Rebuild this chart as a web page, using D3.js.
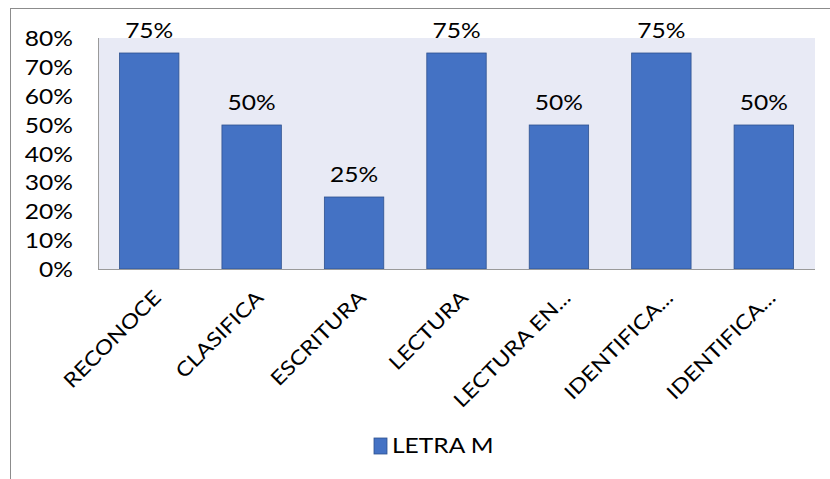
<!DOCTYPE html>
<html><head><meta charset="utf-8">
<script src="https://cdn.jsdelivr.net/npm/d3@7"></script>
<style>body{margin:0;background:#fff}svg{display:block}text{font-family:Lato,"Open Sans",sans-serif;fill:#000}</style>
</head><body><svg id="c" width="830" height="479"></svg>
<script>
const categories = ["RECONOCE","CLASIFICA","ESCRITURA","LECTURA","LECTURA EN...","IDENTIFICA...","IDENTIFICA..."];
const values = [0.75,0.50,0.25,0.75,0.50,0.75,0.50];
const yTicks = [0,0.1,0.2,0.3,0.4,0.5,0.6,0.7,0.8];
const seriesName = "LETRA M";

(function(){
const svg = d3.select("#c");
const pL = 98, pR = 815, pT = 38, pB = 269;
const SX = 1.17, FS = 21;
svg.append("line").attr("x1",10.5).attr("x2",830).attr("y1",8.5).attr("y2",8.5).attr("stroke","#8c8c8c");
svg.append("line").attr("x1",10.5).attr("x2",10.5).attr("y1",8).attr("y2",479).attr("stroke","#8c8c8c");

svg.append("rect").attr("x",pL).attr("y",pT).attr("width",pR-pL).attr("height",pB-pT).attr("fill","#e8eaf5");

const x = d3.scaleBand().domain(d3.range(categories.length)).range([pL,pR]).paddingInner(0.42).paddingOuter(0.21);
const y = d3.scaleLinear().domain([0,0.8]).range([pB, pB-0.8*288]);

svg.selectAll("rect.bar").data(values).join("rect").attr("class","bar")
  .attr("x",(d,i)=>x(i)).attr("width",x.bandwidth())
  .attr("y",d=>y(d)).attr("height",d=>y(0)-y(d))
  .attr("fill","#4472c4").attr("stroke","#2f528f").attr("stroke-width",0.8);

svg.selectAll("text.lbl").data(values).join("text").attr("class","lbl")
  .attr("transform",(d,i)=>`translate(${x(i)+x.bandwidth()/2},${y(d)-15}) scale(${SX},1)`)
  .attr("text-anchor","middle").attr("font-size",FS).text(d=>d3.format(".0%")(d));

const yAxis = d3.axisLeft(y).tickValues(yTicks).tickFormat(d3.format(".0%")).tickSize(0).tickPadding(0);
const gy = svg.append("g").attr("transform","translate(73,0)").call(yAxis);
gy.select(".domain").remove();
gy.selectAll("text").attr("font-size",FS).attr("font-family","Lato,'Open Sans',sans-serif").attr("fill","#000")
  .attr("dy","0.35em").attr("x",0).attr("transform",`scale(${SX},1)`);

svg.append("line").attr("x1",pL).attr("x2",pR).attr("y1",pB+0.5).attr("y2",pB+0.5).attr("stroke","#9a9a9a");
svg.append("line").attr("x1",pL+0.5).attr("x2",pL+0.5).attr("y1",pT).attr("y2",pB).attr("stroke","#9a9a9a");

const xAxis = d3.axisBottom(x).tickFormat(i=>categories[i]).tickSize(0).tickPadding(0);
const gx = svg.append("g").attr("transform",`translate(0,${pB})`).call(xAxis);
gx.select(".domain").remove();
gx.selectAll("text").attr("font-size",20).attr("font-family","Lato,'Open Sans',sans-serif").attr("fill","#000")
  .attr("text-anchor","end").attr("dy",null).attr("y",0)
  .attr("transform",`translate(13,30) rotate(-45) scale(${SX},1)`);

const lg = svg.append("g");
lg.append("rect").attr("x",374).attr("y",438).attr("width",13).attr("height",16).attr("fill","#4472c4").attr("stroke","#2f528f").attr("stroke-width",0.8);
lg.append("text").attr("transform",`translate(392,446) scale(${SX},1)`).attr("dy","0.35em").attr("font-size",FS).text(seriesName);
})();
</script></body></html>
